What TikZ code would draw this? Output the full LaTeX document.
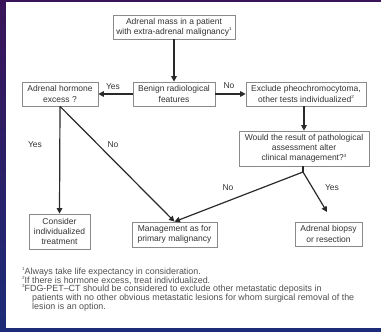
\documentclass[tikz,border=0pt]{standalone}
\usepackage{fontspec}
\setmainfont{Liberation Sans}
\usetikzlibrary{arrows.meta,calc}
\definecolor{boxline}{HTML}{8A8A8A}
\definecolor{txt}{HTML}{333333}
\definecolor{arr}{HTML}{2A2A2A}
\definecolor{fntxt}{HTML}{505050}
\definecolor{bgtop}{HTML}{3A1458}
\definecolor{bgbot}{HTML}{1C2C78}
\newcommand\fnm[1]{\raisebox{0.85ex}{\fontsize{4.5}{5}\selectfont #1}}
\begin{document}
\begin{tikzpicture}[x=1pt,y=-1pt,
  box/.style={draw=boxline, line width=0.7pt, align=center, text=txt,
    font=\fontsize{8.5}{10.2}\selectfont, inner sep=0pt},
  arr/.style={draw=arr, line width=1.2pt, -{Triangle[length=5.5pt,width=5.5pt]}},
  lnk/.style={draw=arr, line width=1.2pt},
  lbl/.style={text=txt, font=\fontsize{8.5}{10}\selectfont, inner sep=0pt},
  fn/.style={text=fntxt, font=\fontsize{8.9}{9}\selectfont, inner sep=0pt, anchor=base west}]
\fill[top color=bgtop, bottom color=bgbot] (0,0) rectangle (381,332);
\fill[white] (6,2) rectangle (381,328);
\useasboundingbox (0,0) rectangle (381,332);

\node[box, minimum width=122pt, minimum height=24pt] (top) at (174,27)
  {Adrenal mass in a patient\\with extra-adrenal malignancy\fnm{1}};
\node[box, minimum width=82pt, minimum height=24pt] (benign) at (174,94)
  {Benign radiological\\features};
\node[box, minimum width=76pt, minimum height=24pt] (hormone) at (60,94)
  {Adrenal hormone\\excess ?};
\node[box, minimum width=120pt, minimum height=24pt] (exclude) at (306,94)
  {Exclude pheochromocytoma,\\other tests individualized\fnm{2}};
\node[box, minimum width=130pt, minimum height=35pt] (would) at (304,148.5)
  {Would the result of pathological\\assessment alter\\clinical management?\fnm{3}};
\node[box, minimum width=61pt, minimum height=35pt] (consider) at (59.5,231.5)
  {Consider\\individualized\\treatment};
\node[box, minimum width=85pt, minimum height=25pt] (manage) at (174.5,234.5)
  {Management as for\\primary malignancy};
\node[box, minimum width=67pt, minimum height=24pt] (biopsy) at (328.5,234)
  {Adrenal biopsy\\or resection};

\coordinate (apex) at (303,172);
\coordinate (yesend) at (327,212);

\draw[arr] (top.south) -- (benign.north);
\draw[arr] (benign.west) -- (hormone.east);
\draw[arr] (benign.east) -- (exclude.west);
\draw[arr] (exclude.south -| would.north) -- (would.north);
\draw[arr] (hormone.south) -- (consider.north);
\draw[arr] (hormone.south) -- (manage.north);
\draw[arr] (apex) -- (manage.north);
\draw[lnk] (would.south -| apex) -- (apex);
\draw[arr] (apex) -- (yesend);

\node[lbl] (l1) at (113,87) {Yes};
\node[lbl] (l2) at (229,86) {No};
\node[lbl] (l3) at (35,145) {Yes};
\node[lbl] (l4) at (113,145) {No};
\node[lbl] (l5) at (228,188) {No};
\node[lbl] (l6) at (332,188) {Yes};

\node[fn] (f1) at (22,274) {\fnm{1}Always take life expectancy in consideration.};
\node[fn] (f2) at (22,283) {\fnm{2}If there is hormone excess, treat individualized.};
\node[fn] (f3) at (22,291.5) {\fnm{3}FDG-PET–CT should be considered to exclude other metastatic deposits in};
\node[fn] (f4) at (32,300.5) {patients with no other obvious metastatic lesions for whom surgical removal of the};
\node[fn] (f5) at (32,309.5) {lesion is an option.};
\end{tikzpicture}
\end{document}
